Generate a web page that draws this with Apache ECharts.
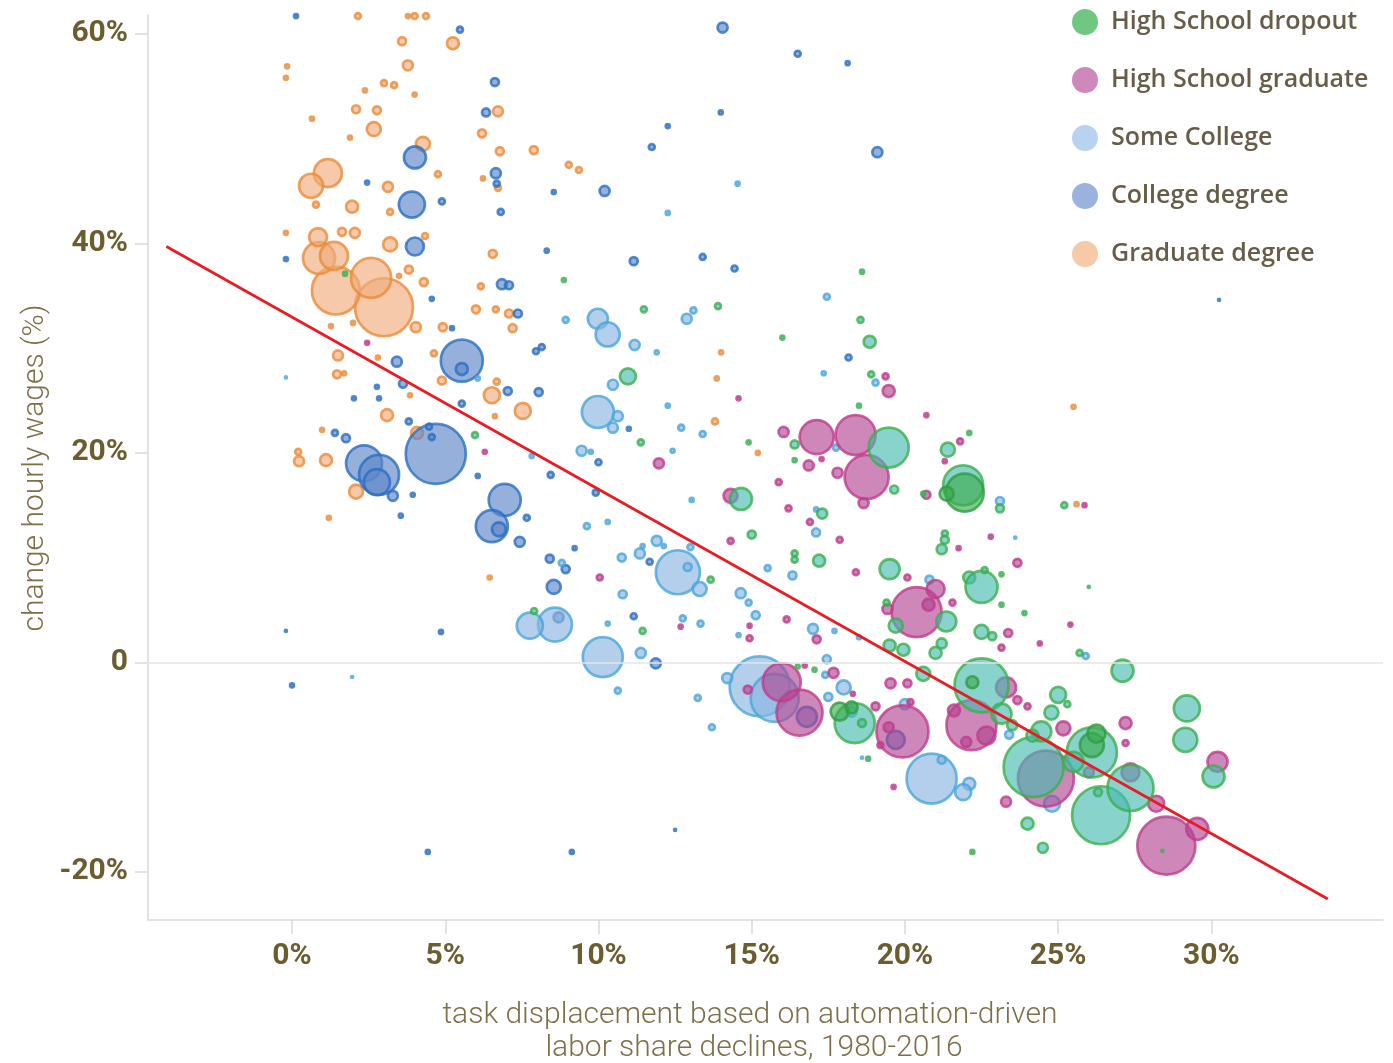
<!DOCTYPE html>
<html><head><meta charset="utf-8">
<script src="https://cdn.jsdelivr.net/npm/echarts@6/dist/echarts.min.js"></script>
<style>html,body{margin:0;padding:0;background:#fff}#c{width:1393px;height:1063px}</style>
</head><body><div id="c"></div>
<script>
// [task displacement %, change in hourly wages %, group weight]
const graduatePoints = [
[3.0,33.9,841],[1.43,35.5,576],[2.58,36.7,400],[0.88,38.6,256],[1.37,38.8,196],[0.85,40.6,81],[1.17,46.7,196],[0.62,45.5,144],
[1.96,43.5,36],[2.05,41.0,25],[3.2,39.9,49],[4.27,49.5,49],[2.67,50.9,49],[3.13,45.4,25],[7.53,24.0,64],[6.52,25.5,64],
[2.09,16.3,49],[1.11,19.3,36],[0.23,19.2,25],[0.2,20.1,9],[4.08,21.9,36],[5.25,59.1,36],[6.72,52.6,25],[3.59,59.3,16],
[3.78,57.0,25],[2.15,61.7,9],[4.0,61.7,9],[4.37,61.7,9],[3.78,61.7,4],[3.0,55.3,9],[3.33,55.1,9],[2.38,54.6,4],[4.0,54.2,4],
[2.09,52.8,16],[2.77,52.7,16],[0.65,51.9,4],[1.89,50.1,4],[-0.16,56.9,4],[-0.2,55.8,4],[6.2,50.5,16],[6.78,48.8,16],
[7.89,48.9,16],[9.03,47.5,9],[9.36,47.0,9],[4.76,46.6,9],[6.23,46.2,4],[6.72,45.3,9],[0.78,43.7,9],[3.2,43.0,9],[1.63,41.1,16],
[-0.2,41.0,4],[4.34,40.7,9],[6.55,39.0,16],[3.81,37.5,16],[4.3,36.3,16],[3.49,36.9,4],[6.16,35.9,9],[6.0,33.7,16],[6.65,33.7,9],
[7.08,33.3,16],[4.04,32.0,25],[4.92,32.0,16],[7.2,31.9,16],[1.99,32.4,4],[1.27,32.1,4],[1.5,29.3,25],[1.47,27.5,16],[1.7,27.6,4],
[2.8,29.1,4],[3.1,23.6,36],[3.85,25.5,4],[4.89,26.9,16],[4.63,29.5,9],[6.68,26.8,9],[6.62,23.5,4],[0.98,22.2,4],[1.2,13.8,4],
[6.45,8.1,4],[13.86,27.1,4],[14.0,29.6,4],[13.8,23.0,9],[15.2,20.0,4],[25.6,15.1,4],[25.5,24.4,4]
];
const collegePoints = [
[4.69,19.9,900],[5.54,28.8,441],[5.54,28.0,36],[2.35,19.0,324],[2.84,17.9,400],[2.77,17.2,169],[6.94,15.5,256],[6.52,13.0,256],
[6.75,12.7,49],[4.01,48.2,121],[3.91,43.7,169],[4.01,39.7,81],[6.62,55.4,16],[6.33,52.5,16],[5.48,60.4,9],[0.13,61.7,4],
[6.65,46.7,25],[6.68,45.7,9],[10.2,45.0,25],[12.26,51.2,4],[11.74,49.2,9],[2.45,45.8,4],[4.89,44.0,9],[6.81,43.0,9],[8.54,44.9,4],
[8.31,39.3,4],[11.15,38.3,16],[6.85,36.1,25],[7.08,36.0,16],[7.37,33.3,16],[4.56,34.7,4],[-0.2,38.5,4],[5.22,31.9,4],
[14.05,60.6,25],[16.5,58.1,9],[18.13,57.2,4],[13.99,52.5,4],[19.1,48.7,25],[13.4,38.7,9],[14.44,37.6,9],[18.16,29.1,9],
[3.42,28.7,25],[3.62,26.6,16],[2.77,26.3,4],[2.02,25.2,4],[2.84,25.2,4],[3.81,23.0,9],[1.4,21.9,9],[1.76,21.4,16],[4.47,22.5,9],
[4.56,21.5,9],[3.29,15.9,25],[3.55,14.0,4],[3.94,16.0,4],[5.54,24.7,9],[7.04,25.9,16],[8.05,25.8,16],[7.96,29.7,9],[8.15,30.1,9],
[6.06,17.8,4],[8.44,17.9,9],[9.91,16.2,9],[10.0,19.1,9],[10.99,22.3,4],[7.66,13.8,9],[7.43,11.5,25],[9.22,10.9,4],[8.41,9.9,16],
[8.93,8.9,16],[8.54,7.2,49],[11.67,9.6,9],[11.15,4.4,9],[11.87,-0.1,25],[8.7,4.3,25],[-0.2,3.0,1],[4.86,2.9,4],[0,-2.2,4],
[4.43,-18.1,4],[9.13,-18.1,4],[12.5,-16.0,1],[30.25,34.6,1],[16.8,-5.2,100],[19.7,-7.4,81]
];
const someCollegePoints = [
[15.26,-2.3,900],[15.75,-3.4,576],[20.87,-11.1,625],[10.14,0.5,400],[12.59,8.6,484],[8.58,3.6,289],[7.76,3.5,169],[9.98,23.9,256],
[9.98,32.8,100],[10.3,31.3,144],[10.47,26.5,25],[11.18,30.3,25],[11.9,29.6,4],[10.63,23.5,25],[10.47,22.4,25],[12.26,24.5,4],
[12.42,20.2,4],[9.45,20.2,25],[9.75,20.1,4],[7.82,19.7,4],[9.62,13.0,9],[10.3,13.4,4],[10.76,10.0,16],[11.35,10.4,25],[11.44,11.1,4],
[11.9,11.6,25],[12.13,11.1,4],[8.8,9.5,9],[10.79,6.5,16],[10.3,3.7,4],[11.38,0.9,25],[6.06,27.1,4],[13.04,15.5,4],[12.75,4.2,9],
[10.63,-2.7,9],[13.24,-3.4,9],[12.7,22.4,9],[13.4,21.8,9],[13.0,11.0,9],[13.3,7.0,49],[12.91,9.1,16],[17.35,27.6,4],[19.04,26.7,9],
[15.52,9.0,9],[16.33,8.3,16],[14.64,6.6,25],[14.9,5.7,9],[15.13,4.5,16],[13.33,3.7,9],[14.57,2.6,4],[17.0,3.2,25],[17.7,3.0,4],
[18.5,2.4,4],[20.8,7.9,16],[17.1,12.4,16],[17.1,14.6,4],[17.75,20.5,9],[23.1,15.4,16],[23.6,11.9,1],[17.45,0.3,16],[14.2,-1.5,25],
[13.7,-6.2,9],[17.4,-1.2,9],[17.5,-3.3,16],[18.0,-2.4,49],[18.26,-4.7,25],[20.0,-4.0,25],[22.1,-11.6,36],[21.9,-12.4,64],
[21.2,-9.3,16],[18.6,-9.1,1],[23.4,-6.9,16],[24.8,-13.5,64],[25.9,0.6,9],[1.96,-1.4,1],[-0.2,27.2,1],[14.54,45.7,4],[17.45,34.9,9],
[13.1,33.6,9],[12.88,32.8,25],[12.26,42.9,4],[8.93,32.7,9]
];
const hsGradPoints = [
[28.53,-17.5,841],[24.6,-11.1,784],[29.54,-15.9,121],[30.2,-9.5,100],[28.2,-13.5,64],[27.36,-10.5,81],[27.2,-5.8,36],[27.2,-7.7,9],
[25.17,-6.3,49],[23.3,-13.3,25],[24.0,-4.2,9],[26.0,-10.5,25],[23.3,-2.4,100],[23.67,-3.6,16],[24.4,1.8,4],[22.17,-6.0,625],
[22.66,-7.0,81],[22.0,-7.6,25],[21.6,-4.6,36],[19.92,-6.6,676],[19.47,-6.2,25],[19.2,-7.9,9],[16.56,-4.8,529],[15.98,-1.9,361],
[14.87,-2.6,16],[17.67,-1.0,25],[16.73,-0.3,4],[18.3,-3.0,4],[19.04,-4.2,16],[19.53,-2.0,25],[20.08,-2.0,16],[20.18,-3.8,9],
[19.63,-11.9,4],[23.15,1.4,9],[18.39,21.7,400],[17.12,21.5,289],[18.75,17.7,484],[20.38,4.8,625],[21.0,7.0,81],[20.77,5.5,36],
[19.43,5.1,25],[16.04,22.0,25],[16.86,18.8,25],[17.28,19.4,4],[17.8,18.1,25],[18.65,15.2,25],[19.47,25.9,36],[19.37,27.3,9],
[15.88,17.2,9],[16.2,14.7,9],[16.9,13.4,9],[17.87,11.7,9],[14.31,11.6,9],[14.57,25.2,4],[14.31,15.9,49],[20.7,23.6,4],[21.8,21.1,9],
[21.3,19.2,4],[20.7,16.0,16],[22.8,12.0,4],[23.67,9.5,16],[21.75,10.9,4],[18.4,8.6,9],[20.08,8.1,9],[21.55,5.7,9],[23.37,2.8,16],
[25.4,3.6,4],[16.14,4.1,9],[14.93,3.5,4],[14.93,2.3,9],[17.12,2.2,16],[12.68,3.4,4],[11.97,19.0,25],[10.04,8.1,9],[6.29,20.1,4],
[2.45,30.5,4],[25.86,15.0,4]
];
const dropoutPoints = [
[22.5,-2.2,729],[24.2,-10.0,900],[26.4,-14.6,841],[26.1,-8.6,625],[27.36,-12.0,529],[29.2,-4.4,169],[29.15,-7.4,144],[30.07,-10.9,121],
[27.1,-0.8,121],[25.0,-3.1,64],[24.78,-4.8,49],[24.45,-6.6,100],[24.16,-7.0,36],[25.5,-9.5,100],[24.0,-15.4,36],[24.5,-17.7,25],
[25.7,0.9,9],[26.3,-12.4,16],[28.4,-18.0,1],[25.3,-4.0,9],[18.36,-5.8,400],[18.6,-5.8,16],[20.6,-1.1,49],[23.15,-4.9,100],
[23.5,-6.0,25],[22.2,-18.1,4],[19.5,1.6,36],[19.95,1.2,36],[21.0,0.9,36],[21.2,1.8,25],[16.5,-0.4,4],[17.05,-0.7,4],[18.8,-9.2,4],
[19.47,20.5,400],[21.9,16.9,400],[18.85,30.6,36],[16.0,31.0,4],[18.9,27.5,9],[18.5,24.5,4],[16.4,20.8,16],[16.4,19.3,4],[14.9,21.0,4],
[14.65,15.6,121],[19.65,16.5,16],[21.4,20.3,49],[22.1,21.9,4],[20.6,16.1,4],[25.2,15.0,9],[23.1,14.7,16],[17.3,14.2,25],[15.0,12.2,16],
[16.4,10.4,9],[16.4,9.8,9],[17.2,9.7,36],[13.66,7.9,9],[19.5,8.9,100],[21.3,12.3,9],[21.3,11.7,16],[21.2,10.8,25],[22.1,8.1,36],
[22.5,7.2,256],[22.6,8.8,9],[23.15,8.4,4],[23.15,5.5,4],[23.9,4.7,4],[22.5,2.9,49],[22.85,2.5,16],[21.35,3.9,100],[19.7,3.5,49],
[19.4,5.7,9],[13.9,34.0,9],[18.6,37.3,4],[18.55,32.7,9],[10.96,27.3,64],[7.9,4.9,9],[11.44,3.0,9],[5.97,21.7,9],[11.38,21.0,9],
[11.48,33.7,9],[8.87,36.5,4],[1.73,37.1,4],[26.0,7.2,1]
];
const dropoutSolidPoints = [
[21.95,16.2,361],[22.2,-1.9,36],[26.1,-7.9,144],[26.25,-6.8,81],[17.87,-4.7,81],[18.26,-4.3,36],[21.36,16.1,49]
];
const fitX = [-4.1, 33.8];
const fitY = [39.7, -22.6];
const xTicks = [0, 5, 10, 15, 20, 25, 30];
const yTicks = [-20, 0, 20, 40, 60];
const seriesNames = ['High School dropout','High School graduate','Some College','College degree','Graduate degree'];

const chart = echarts.init(document.getElementById('c'));
const size = d => 2 * Math.sqrt(d[2]);
function bubble(name, data, fill, border) {
  return { name, type: 'scatter', data, symbolSize: size, z: 3,
    itemStyle: { color: fill, borderColor: border, borderWidth: 2.7 },
    emphasis: { disabled: true } };
}
const legendColors = ['#4cb963','#c26aa8','#a6c8ec','#7f9fd6','#f4bc94'];
const tickFont = { fontFamily: 'Roboto', fontWeight: 'bold', fontSize: 30, color: '#6b5d2f' };
const titleFont = { fontFamily: 'Roboto', fontWeight: 300, fontSize: 30, fill: '#7d7048', align: 'center', verticalAlign: 'middle' };
chart.setOption({
  animation: false,
  grid: { left: 148, right: 10, top: 15, bottom: 143, containLabel: false },
  legend: {
    orient: 'vertical', left: 1067, top: 4, itemWidth: 26, itemHeight: 26, itemGap: 32, icon: 'circle',
    selectedMode: false,
    textStyle: { fontFamily: 'Open Sans', fontWeight: 600, fontSize: 25, color: '#665c47', padding: [0,0,0,8] },
    data: seriesNames.map((n, i) => ({ name: n, itemStyle: { color: legendColors[i], borderWidth: 0 } }))
  },
  xAxis: {
    type: 'value', min: -4.7, max: 35.6,
    axisLine: { show: true, onZero: false, lineStyle: { color: '#d9d9d9', width: 1.5 } },
    axisTick: { show: true, customValues: xTicks, length: 14, lineStyle: { color: '#d9d9d9', width: 1.5 } },
    axisLabel: Object.assign({ customValues: xTicks, formatter: v => v + '%', margin: 21 }, tickFont),
    splitLine: { show: false }
  },
  yAxis: {
    type: 'value', min: -24.6, max: 61.8,
    axisLine: { show: true, onZero: false, lineStyle: { color: '#d9d9d9', width: 1.5 } },
    axisTick: { show: true, customValues: yTicks, length: 13, lineStyle: { color: '#d9d9d9', width: 1.5 } },
    axisLabel: Object.assign({ customValues: yTicks, formatter: v => v === 0 ? '0' : v + '%', margin: 20 }, tickFont),
    splitLine: { show: false }
  },
  graphic: [
    { type: 'text', x: 35, y: 468, rotation: Math.PI / 2,
      style: Object.assign({ text: 'change hourly wages (%)' }, titleFont) },
    { type: 'text', x: 750, y: 1015,
      style: Object.assign({ text: 'task displacement based on automation-driven' }, titleFont) },
    { type: 'text', x: 754, y: 1048,
      style: Object.assign({ text: 'labor share declines, 1980-2016' }, titleFont) }
  ],
  series: [
    { type: 'line', data: [], z: 1, silent: true,
      markLine: { silent: true, symbol: 'none', label: { show: false },
        lineStyle: { color: '#e4e4e4', width: 1.5, type: 'solid' }, data: [{ yAxis: 0 }] } },
    bubble('Graduate degree', graduatePoints, 'rgba(239,172,124,0.82)', '#ea8c3a'),
    bubble('College degree', collegePoints, 'rgba(95,135,201,0.82)', '#2a6fbf'),
    bubble('Some College', someCollegePoints, 'rgba(141,181,226,0.82)', '#4aa6d8'),
    bubble('High School graduate', hsGradPoints, 'rgba(176,69,146,0.8)', '#c03c8c'),
    bubble('High School dropout', dropoutPoints, 'rgba(71,186,176,0.8)', '#3daf4c'),
    bubble('High School dropout', dropoutSolidPoints, 'rgba(60,170,75,0.8)', '#2f9e44'),
    { type: 'line', data: fitX.map((x, i) => [x, fitY[i]]), symbol: 'none', z: 10, silent: true,
      lineStyle: { color: '#e81c24', width: 2.7 } }
  ]
});
</script></body></html>
